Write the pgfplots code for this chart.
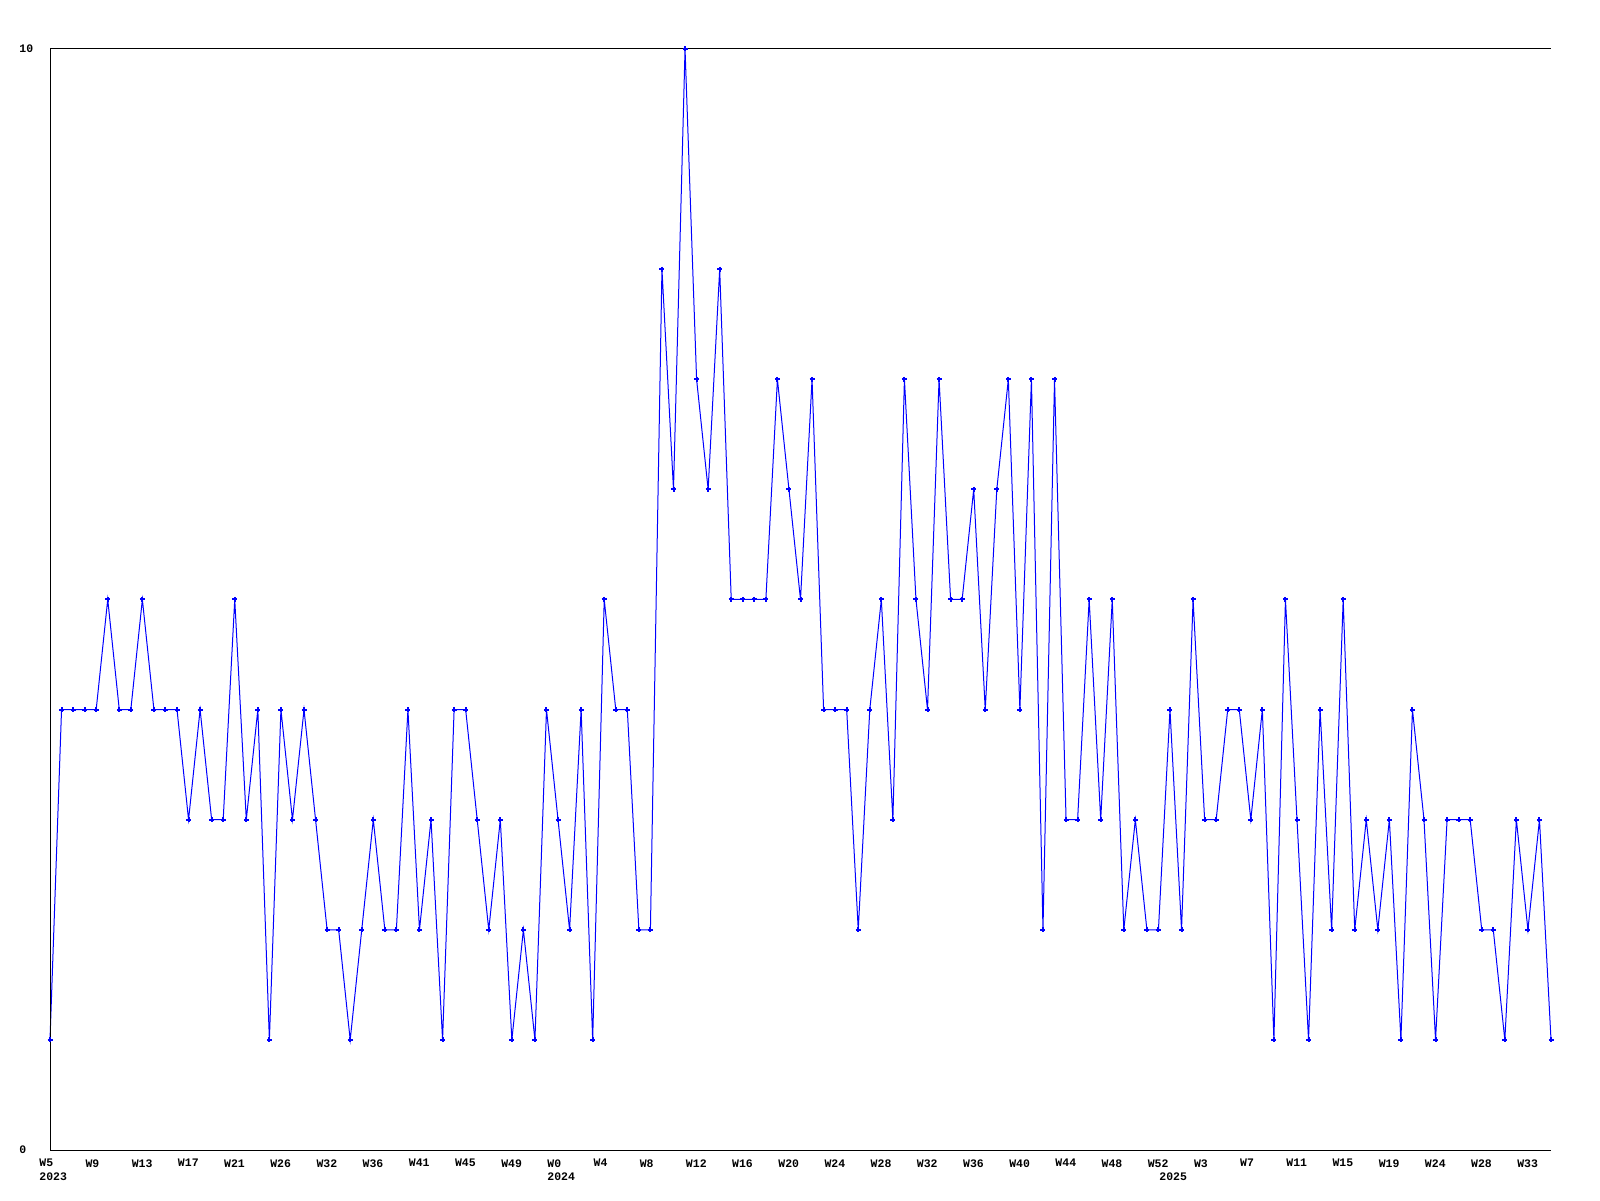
\documentclass[border=0pt]{standalone}
\usepackage{fontspec}
\setmainfont{Liberation Mono}
\usepackage{pgfplots}
\pgfplotsset{compat=1.18}

\begin{document}
\begin{tikzpicture}[x=1pt,y=1pt]
\path[use as bounding box] (0,0) rectangle (800,600);
\begin{axis}[
    at={(25pt,25pt)}, anchor=south west,
    width=750.5pt, height=550.5pt, scale only axis,
    xmin=0, xmax=130, ymin=0, ymax=10,
    axis line style={draw=none},
    major tick length=0pt,
    xtick={0,4,...,128},
    xticklabels={W5,W9,W13,W17,W21,W26,W32,W36,W41,W45,W49,W0,W4,W8,W12,W16,W20,W24,W28,W32,W36,W40,W44,W48,W52,W3,W7,W11,W15,W19,W24,W28,W33},
    x tick label style={anchor=north west, inner sep=0pt, xshift=-5.5pt, yshift=-4.5pt,
        font=\fontsize{5.75}{6.85}\selectfont\bfseries},
    extra x ticks={0,44,97},
    extra x tick labels={2023,2024,2025},
    extra x tick style={x tick label style={yshift=-6.85pt}},
    ytick={0,10}, yticklabels={0,10},
    y tick label style={anchor=west, inner sep=0pt, xshift=-15.5pt,
        font=\fontsize{5.75}{6.85}\selectfont\bfseries},
    clip=false,
]
\addplot[color={rgb,255:red,0;green,0;blue,255}, line width=0.5pt, mark=+, mark size=1.25pt,
    mark options={line width=1pt}] coordinates {
(0,1) (1,4) (2,4) (3,4) (4,4) (5,5) (6,4) (7,4) (8,5) (9,4)
(10,4) (11,4) (12,3) (13,4) (14,3) (15,3) (16,5) (17,3) (18,4) (19,1)
(20,4) (21,3) (22,4) (23,3) (24,2) (25,2) (26,1) (27,2) (28,3) (29,2)
(30,2) (31,4) (32,2) (33,3) (34,1) (35,4) (36,4) (37,3) (38,2) (39,3)
(40,1) (41,2) (42,1) (43,4) (44,3) (45,2) (46,4) (47,1) (48,5) (49,4)
(50,4) (51,2) (52,2) (53,8) (54,6) (55,10) (56,7) (57,6) (58,8) (59,5)
(60,5) (61,5) (62,5) (63,7) (64,6) (65,5) (66,7) (67,4) (68,4) (69,4)
(70,2) (71,4) (72,5) (73,3) (74,7) (75,5) (76,4) (77,7) (78,5) (79,5)
(80,6) (81,4) (82,6) (83,7) (84,4) (85,7) (86,2) (87,7) (88,3) (89,3)
(90,5) (91,3) (92,5) (93,2) (94,3) (95,2) (96,2) (97,4) (98,2) (99,5)
(100,3) (101,3) (102,4) (103,4) (104,3) (105,4) (106,1) (107,5) (108,3) (109,1)
(110,4) (111,2) (112,5) (113,2) (114,3) (115,2) (116,3) (117,1) (118,4) (119,3)
(120,1) (121,3) (122,3) (123,3) (124,2) (125,2) (126,1) (127,3) (128,2) (129,3)
(130,1)
};
\draw[black, line width=0.5pt] (rel axis cs:0,1) -- (rel axis cs:0,0) -- (rel axis cs:1,0);
\draw[black, line width=0.5pt] (rel axis cs:0,1) -- (rel axis cs:1,1);
\end{axis}
\end{tikzpicture}
\end{document}
